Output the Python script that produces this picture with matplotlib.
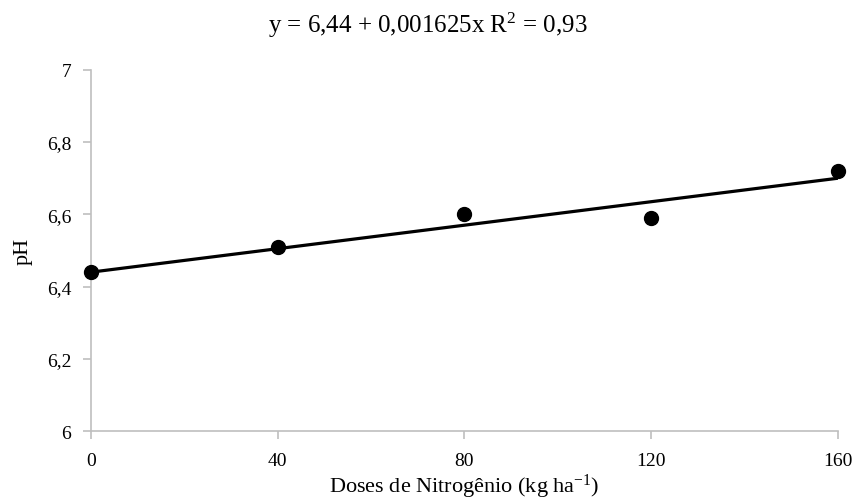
import numpy as np
import matplotlib.pyplot as plt

# doses de nitrogênio (kg/ha) e pH medido
doses = [0, 40, 80, 120, 160]
ph = [6.44, 6.51, 6.60, 6.59, 6.72]

# coeficientes da regressão linear
a = 6.44
b = 0.001625
r2 = 0.93

plt.rcParams['font.family'] = ['Liberation Serif', 'DejaVu Serif']
plt.rcParams['mathtext.fontset'] = 'custom'
plt.rcParams['mathtext.rm'] = 'Liberation Serif'
plt.rcParams['mathtext.it'] = 'Liberation Serif:italic'

fig = plt.figure(figsize=(8.56, 5.02), dpi=100)
ax = fig.add_axes([0.106, 0.139, 0.873, 0.720])

x_fit = np.array([0, 160])
ax.plot(x_fit, a + b * x_fit, color='black', linewidth=2.3, zorder=2)
ax.plot(doses, ph, 'o', color='black', markersize=10, zorder=3, clip_on=False)

ax.set_xlim(0, 160)
ax.set_ylim(6, 7)
ax.set_xticks(doses)
yt = [6, 6.2, 6.4, 6.6, 6.8, 7]
ax.set_yticks(yt)
ax.set_yticklabels([f'{v:g}'.replace('.', ',') for v in yt])

for s in ['top', 'right']:
    ax.spines[s].set_visible(False)
for s in ['left', 'bottom']:
    ax.spines[s].set_color('#bfbfbf')
    ax.spines[s].set_linewidth(1.2)
ax.tick_params(colors='#bfbfbf', labelcolor='black', labelsize=14, length=6, width=1.2)
ax.tick_params(axis='x', pad=9)
ax.tick_params(axis='y', pad=8)

ax.set_xlabel('Doses de Nitrogênio (kg ha$^{\\mathregular{-1}}$)', fontsize=16, labelpad=2)
ax.set_ylabel('pH', fontsize=16, labelpad=10)

fig.text(0.5, 0.95, 'y = 6,44 + 0,001625x R$^{\\mathregular{2}}$ = 0,93',
         ha='center', va='center', fontsize=18)

fig.savefig('out.png', dpi=100)
